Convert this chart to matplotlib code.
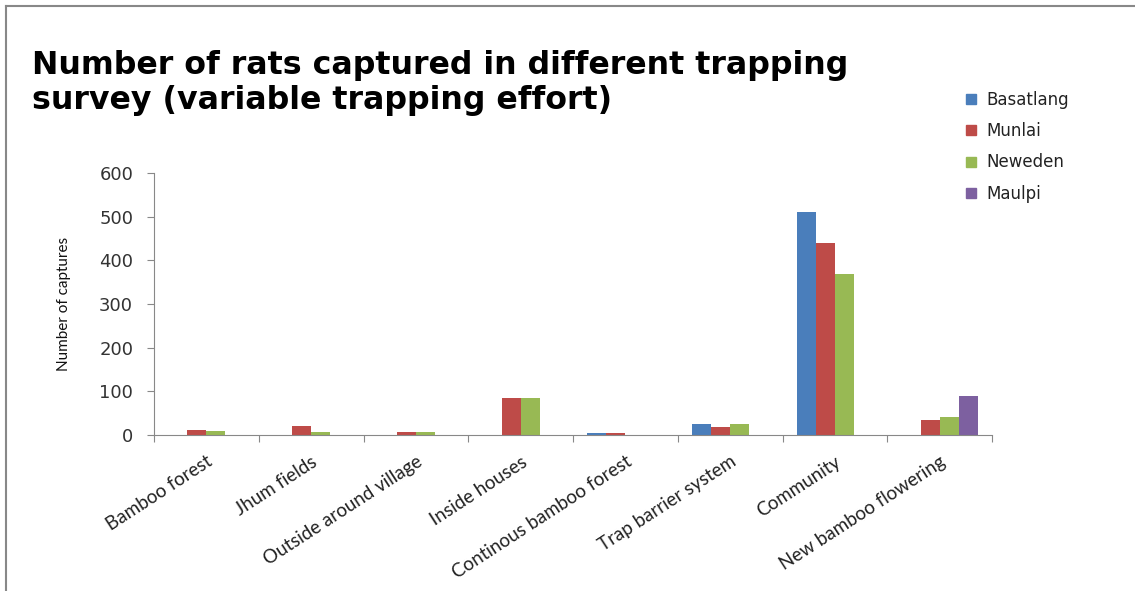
import numpy as np
import matplotlib
matplotlib.use("Agg")
import matplotlib.pyplot as plt
from matplotlib import font_manager
from matplotlib.lines import Line2D

# Captures per trapping survey, one list per village
categories = [
    "Bamboo forest", "Jhum fields", "Outside around village", "Inside houses",
    "Continous bamboo forest", "Trap barrier system", "Community",
    "New bamboo flowering",
]
basatlang = [0, 0, 0, 0, 4, 25, 510, 0]
munlai = [12, 21, 7, 84, 5, 19, 440, 35]
neweden = [10, 8, 8, 84, 0, 25, 368, 42]
maulpi = [0, 0, 0, 0, 0, 0, 0, 89]

series = [
    ("Basatlang", basatlang, "#4a7ebb"),
    ("Munlai", munlai, "#be4b48"),
    ("Neweden", neweden, "#98b954"),
    ("Maulpi", maulpi, "#7d60a0"),
]
y_ticks = [0, 100, 200, 300, 400, 500, 600]

# Condensed face for the axis title, if there is one
installed = {f.name for f in font_manager.fontManager.ttflist}
if "Liberation Sans Narrow" in installed:
    ylabel_font, ylabel_size = "Liberation Sans Narrow", 13
else:
    ylabel_font, ylabel_size = "Lato", 11

fig = plt.figure(figsize=(11.35, 5.91), dpi=100)
ax = fig.add_axes([154 / 1135, 1 - 435 / 591, 838 / 1135, 262 / 591])

x = np.arange(len(categories))
width = 1 / 5.5
for i, (name, vals, color) in enumerate(series):
    ax.bar(x + (i - 1.5) * width, vals, width, color=color, label=name)

ax.set_xlim(-0.5, len(categories) - 0.5)
ax.set_ylim(0, 600)
ax.set_yticks(y_ticks)
ax.set_yticklabels([str(v) for v in y_ticks], fontsize=13, color="#333333")
ax.set_xticks(np.arange(len(categories) + 1) - 0.5, minor=False)
ax.set_xticklabels([])
ax.set_xticks(x, minor=True)
ax.set_xticklabels(categories, minor=True, rotation=33, ha="right",
                   rotation_mode="anchor", fontsize=13.5, family="Lato",
                   color="#222222")
ax.tick_params(axis="x", which="minor", length=0, pad=13)
ax.tick_params(axis="x", which="major", length=5, color="#888888")
ax.tick_params(axis="y", length=5, color="#888888", pad=10)

for side in ("top", "right"):
    ax.spines[side].set_visible(False)
for side in ("left", "bottom"):
    ax.spines[side].set_color("#888888")

ax.set_ylabel("Number of captures", fontsize=ylabel_size, family=ylabel_font,
              labelpad=20, color="#111111")

fig.text(32 / 1135, 1 - 83 / 591,
         "Number of rats captured in different trapping\nsurvey (variable trapping effort)",
         fontsize=22.8, fontweight="bold", va="center", linespacing=1.15)

handles = [Line2D([], [], marker="s", linestyle="none", markersize=7.5,
                  color=c) for _, _, c in series]
fig.legend(handles, [n for n, _, _ in series], loc="upper left",
           bbox_to_anchor=(956 / 1135, 1 - 84 / 591), frameon=False,
           fontsize=12, labelspacing=0.8, handletextpad=0.4,
           handlelength=1.0, borderaxespad=0, labelcolor="#222222")

# Thin gray frame on the top and left edges
fig.add_artist(Line2D([6 / 1135, 1], [1 - 6 / 591, 1 - 6 / 591],
                      color="#888888", linewidth=1.5, transform=fig.transFigure))
fig.add_artist(Line2D([6 / 1135, 6 / 1135], [0, 1 - 6 / 591],
                      color="#888888", linewidth=1.5, transform=fig.transFigure))

fig.savefig("out.png", dpi=100)
